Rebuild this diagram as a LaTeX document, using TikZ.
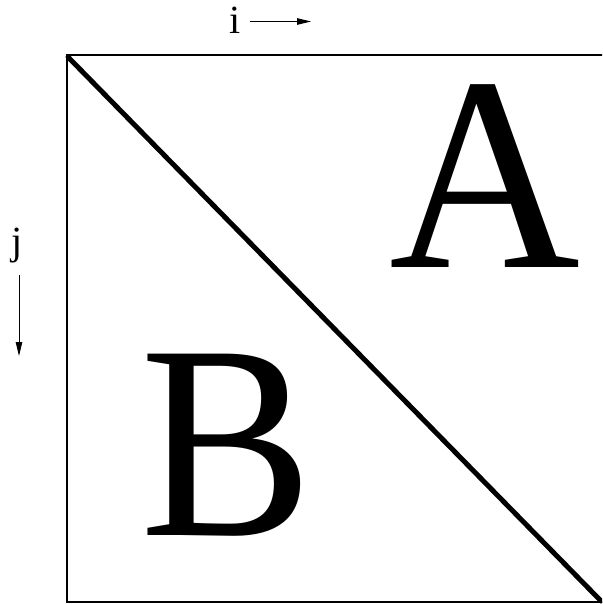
\documentclass[tikz,border=0pt]{standalone}
\usepackage{fontspec}
\setmainfont{Liberation Serif}
\usetikzlibrary{arrows.meta}
\tikzset{
  big/.style={inner sep=0pt, anchor=base, font=\fontsize{277}{280}\selectfont},
  small/.style={inner sep=0pt, anchor=base, font=\fontsize{40}{42}\selectfont},
  axis/.style={line width=1pt, -{Triangle[length=14pt,width=6.5pt]}},
  frame/.style={line width=1.2pt},
  diag/.style={line width=5pt, line cap=round}
}
\begin{document}
\begin{tikzpicture}[x=1pt,y=-1pt]
\useasboundingbox (0,0) rectangle (602,604);
\coordinate (tl) at (67,55);
\coordinate (br) at (605,602);
\coordinate (d1) at (68,57);
\coordinate (d2) at (601,601);
\clip (0,0) rectangle (602,604);
\draw[frame] (tl) rectangle (br);
\draw[diag] (d1) -- (d2);
\node[big] (A) at (485,267) {\scalebox{0.955}[1]{A}};
\node[big] (B) at (227,535) {\scalebox{0.935}[1]{B}};
\node[small] (i) at (235,34) {i};
\node[small] (j) at (17,254) {j};
\coordinate (is) at (250,21.5);
\coordinate (ie) at (311,21.5);
\coordinate (js) at (19,275);
\coordinate (je) at (19,356);
\draw[axis] (is) -- (ie);
\draw[axis] (js) -- (je);
\end{tikzpicture}
\end{document}
